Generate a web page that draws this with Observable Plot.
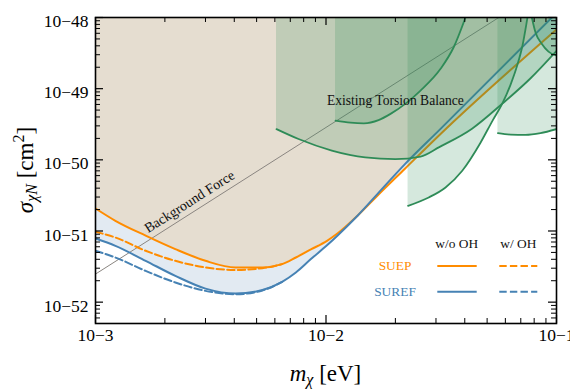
<!DOCTYPE html>
<html><head><meta charset="utf-8">
<script src="https://cdn.jsdelivr.net/npm/d3@7"></script>
<script src="https://cdn.jsdelivr.net/npm/@observablehq/plot@0.6"></script>
<style>
body{margin:0;background:#fff;}
#chart svg, #chart svg text{font-family:"Liberation Serif","Times New Roman",serif;}
</style></head><body><div id="chart"></div>
<script>
// ---- data ----
const mass = [1e-3, 1.22e-3, 1.65e-3, 2.22e-3, 3.0e-3, 4.05e-3, 5.3e-3, 6.45e-3, 7.4e-3, 8.6e-3, 1.01e-2, 1.12e-2, 1.37e-2, 1.67e-2, 2.2e-2, 3.14e-2, 1e-1];
const suepNoOH = [2.07e-51, 1.39e-51, 8.6e-52, 5.56e-52, 3.81e-52, 3.07e-52, 3.07e-52, 3.42e-52, 4.24e-52, 5.5e-52, 7.28e-52, 9.2e-52, 1.64e-51, 3.13e-51, 7.5e-51, 2.31e-50, 6.8e-49];
const surefNoOH = [7.85e-52, 6.19e-52, 3.81e-52, 2.34e-52, 1.55e-52, 1.32e-52, 1.48e-52, 1.93e-52, 2.61e-52, 4.03e-52, 6.3e-52, 8.6e-52, 1.64e-51, 3.3e-51, 8.7e-51, 2.72e-50, 1.16e-48];
const massOH = [1e-3, 1.22e-3, 1.65e-3, 2.22e-3, 3.0e-3, 4.05e-3, 5.3e-3, 6.45e-3];
const suepOH = [9.75e-52, 8.1e-52, 5.27e-52, 3.81e-52, 3.07e-52, 2.84e-52, 3.0e-52, 3.42e-52];
const surefOH = [5.27e-52, 4.24e-52, 2.75e-52, 1.89e-52, 1.44e-52, 1.29e-52, 1.46e-52, 1.93e-52];

const bgMass = [1e-3, 5.62e-2];
const bgSigma = [2.48e-52, 1e-48];

// existing torsion balance constraints
const tb1Mass = [6.1e-3, 7.6e-3, 1.06e-2, 1.48e-2, 2.0e-2, 2.57e-2, 3.1e-2, 4.3e-2, 5.8e-2, 7.7e-2, 1e-1];
const tb1Sigma = [2.7e-50, 1.96e-50, 1.35e-50, 1.08e-50, 1.02e-50, 1.11e-50, 1.51e-50, 2.74e-50, 6.1e-50, 1.39e-49, 3.4e-49];
const tb2Mass = [1.1e-2, 1.277e-2, 1.459e-2, 1.69e-2, 1.905e-2, 2.213e-2, 2.57e-2, 3.14e-2, 3.58e-2, 4.05e-2];
const tb2Sigma = [3.56e-50, 3.33e-50, 3.26e-50, 3.61e-50, 4.42e-50, 6.17e-50, 9.4e-50, 1.9e-49, 3.82e-49, 1.05e-48];
const tb3Mass = [2.27e-2, 2.79e-2, 3.3e-2, 3.9e-2, 4.68e-2, 5.28e-2, 5.81e-2, 6.32e-2, 6.75e-2, 7.12e-2, 7.5e-2];
const tb3Sigma = [2.26e-51, 2.96e-51, 4.09e-51, 7.03e-51, 1.74e-50, 3.56e-50, 6.1e-50, 1.14e-49, 2.11e-49, 4.04e-49, 1.05e-48];
const tb4Mass = [5.57e-2, 6.32e-2, 7.34e-2, 8.52e-2, 1e-1];
const tb4Sigma = [2.37e-50, 2.26e-50, 2.24e-50, 2.37e-50, 2.7e-50];
const tb5Mass = [7.79e-2, 8.11e-2, 8.61e-2, 9.23e-2, 1e-1];
const tb5Sigma = [1.05e-48, 6.15e-49, 4.31e-49, 3.32e-49, 2.92e-49];

const xMajor = [1e-3, 1e-2, 1e-1];
const xTickExp = ["\u22123", "\u22122", "\u22121"];
const yMajor = [1e-52, 1e-51, 1e-50, 1e-49, 1e-48];
const yTickExp = ["\u221252", "\u221251", "\u221250", "\u221249", "\u221248"];

// ---- layout ----
const W = 570, H = 389, mL = 95, mR = 14, mT = 17, mB = 66;
const fw = W - mL - mR, fh = H - mT - mB;
const yTop = 1e-48, yBottom = Math.pow(10, -52.3);
const orange = "#ff8c00", blue = "#4682b4", green = "#2e8b57";
const serif = "Liberation Serif, Times New Roman, serif";

const solid = mass.map((m, i) => ({m, suep: suepNoOH[i], suref: surefNoOH[i],
  lo: Math.min(suepNoOH[i], surefNoOH[i]), hi: Math.max(suepNoOH[i], surefNoOH[i])}));
const dashed = massOH.map((m, i) => ({m, suep: suepOH[i], suref: surefOH[i]}));
const bg = bgMass.map((m, i) => ({m, s: bgSigma[i]}));
const regions = [[tb1Mass, tb1Sigma], [tb2Mass, tb2Sigma], [tb3Mass, tb3Sigma], [tb4Mass, tb4Sigma], [tb5Mass, tb5Sigma]]
  .map(([ms, ss]) => ms.map((m, i) => ({m, s: ss[i]})));

const minorOf = (lo, hi) => {
  const out = [];
  for (let e = Math.floor(Math.log10(lo)); e < Math.ceil(Math.log10(hi)); e++)
    for (let k = 2; k <= 9; k++) { const v = k * Math.pow(10, e); if (v > lo && v < hi) out.push(v); }
  return out;
};
const xMinor = minorOf(1e-3, 1e-1);
const yMinor = minorOf(yBottom, yTop);

const curve = "monotone-x";
const marks = [
  Plot.areaY(solid, {x: "m", y1: "hi", y2: () => yTop, fill: "#e5ddd0", curve, clip: true}),
  Plot.areaY(solid, {x: "m", y1: "lo", y2: "hi", fill: "#e2eaf2", curve, clip: true}),
  Plot.line(bg, {x: "m", y: "s", stroke: "#8a8580", strokeWidth: 1, clip: true}),
  Plot.line(solid, {x: "m", y: "suep", stroke: orange, strokeWidth: 2, curve, clip: true}),
  Plot.line(solid, {x: "m", y: "suref", stroke: blue, strokeWidth: 2, curve, clip: true}),
  Plot.line(dashed, {x: "m", y: "suep", stroke: orange, strokeWidth: 2, strokeDasharray: "7.4,3.2", curve, clip: true}),
  Plot.line(dashed, {x: "m", y: "suref", stroke: blue, strokeWidth: 2, strokeDasharray: "7.4,3.2", curve, clip: true}),
  ...regions.map(r => Plot.areaY(r, {x: "m", y1: "s", y2: () => yTop, fill: green, fillOpacity: 0.2, curve, clip: true})),
  ...regions.map(r => Plot.line(r, {x: "m", y: "s", stroke: green, strokeWidth: 1.8, curve, clip: true})),
  Plot.text(["Existing Torsion Balance"], {x: () => 2.0e-2, y: () => 6.8e-50, text: d => d, fontSize: 13.6, fontFamily: serif, fill: "#111"}),
  Plot.text(["Background Force"], {x: () => 2.56e-3, y: () => 2.58e-51, text: d => d, rotate: -32.5, fontSize: 14, fontFamily: serif, fill: "#111"}),
  // inward ticks on all four sides
  Plot.tickX(xMajor, {x: d => d, insetTop: fh - 8, stroke: "black", strokeWidth: 1.2}),
  Plot.tickX(xMajor, {x: d => d, insetBottom: fh - 8, stroke: "black", strokeWidth: 1.2}),
  Plot.tickX(xMinor, {x: d => d, insetTop: fh - 5, stroke: "black", strokeWidth: 1}),
  Plot.tickX(xMinor, {x: d => d, insetBottom: fh - 5, stroke: "black", strokeWidth: 1}),
  Plot.tickY(yMajor, {y: d => d, insetRight: fw - 8, stroke: "black", strokeWidth: 1.2}),
  Plot.tickY(yMajor, {y: d => d, insetLeft: fw - 8, stroke: "black", strokeWidth: 1.2}),
  Plot.tickY(yMinor, {y: d => d, insetRight: fw - 5, stroke: "black", strokeWidth: 1}),
  Plot.tickY(yMinor, {y: d => d, insetLeft: fw - 5, stroke: "black", strokeWidth: 1}),
  Plot.frame({stroke: "black", strokeWidth: 1.6}),
  // tick labels
  Plot.text(xMajor, {x: d => d, text: (d, i) => "10" + xTickExp[i], frameAnchor: "bottom", dy: 17, fontSize: 17.5, fontFamily: serif, fill: "black", ariaLabel: "xticklabel"}),
  Plot.text(yMajor, {y: d => d, text: (d, i) => "10" + yTickExp[i], frameAnchor: "left", dx: -7, dy: 4, textAnchor: "end", fontSize: 17.5, fontFamily: serif, fill: "black", ariaLabel: "yticklabel"})
];

const chart = Plot.plot({
  width: W, height: H,
  marginLeft: mL, marginRight: mR, marginTop: mT, marginBottom: mB,
  style: {fontFamily: serif, background: "white", color: "black", overflow: "visible"},
  x: {type: "log", domain: [1e-3, 1e-1], axis: null},
  y: {type: "log", domain: [yBottom, yTop], axis: null},
  marks
});

// superscript exponents in tick labels
d3.select(chart).selectAll('g[aria-label="xticklabel"] text, g[aria-label="yticklabel"] text').each(function () {
  const t = this.textContent;
  const exp = t.slice(2);
  this.textContent = "";
  const s = d3.select(this);
  s.append("tspan").text("10");
  s.append("tspan").attr("dy", -7.5).attr("font-size", 12.5).text(exp);
});

const svg = d3.select(chart);
// axis titles
const xt = svg.append("text").attr("x", mL + fw / 2).attr("y", 381).attr("text-anchor", "middle")
  .attr("font-size", 23).attr("fill", "black");
xt.append("tspan").attr("font-style", "italic").text("m");
xt.append("tspan").attr("font-style", "italic").attr("font-size", 16).attr("dy", 4).text("\u03c7");
xt.append("tspan").attr("dy", -4).text(" [eV]");

const yt = svg.append("text").attr("transform", `translate(33,${mT + fh / 2}) rotate(-90)`).attr("text-anchor", "middle")
  .attr("font-size", 23).attr("fill", "black");
yt.append("tspan").attr("font-style", "italic").text("\u03c3");
yt.append("tspan").attr("font-style", "italic").attr("font-size", 16).attr("dy", 4).text("\u03c7N");
yt.append("tspan").attr("dy", -4).text(" [cm");
yt.append("tspan").attr("font-size", 16).attr("dy", -9).text("2");
yt.append("tspan").attr("dy", 9).text("]");

// legend
const lg = svg.append("g").attr("font-size", 13.4);
lg.append("text").attr("x", 456.7).attr("y", 247.6).attr("text-anchor", "middle").attr("fill", "#111").text("w/o OH");
lg.append("text").attr("x", 518.3).attr("y", 247.6).attr("text-anchor", "middle").attr("fill", "#111").text("w/ OH");
lg.append("text").attr("x", 395).attr("y", 269.5).attr("text-anchor", "middle").attr("fill", orange).text("SUEP");
lg.append("text").attr("x", 395).attr("y", 295.5).attr("text-anchor", "middle").attr("fill", blue).text("SUREF");
[[266, orange], [291.7, blue]].forEach(([y, c]) => {
  lg.append("line").attr("x1", 437.3).attr("x2", 476.7).attr("y1", y).attr("y2", y).attr("stroke", c).attr("stroke-width", 2);
  lg.append("line").attr("x1", 499.3).attr("x2", 537.3).attr("y1", y).attr("y2", y).attr("stroke", c).attr("stroke-width", 2).attr("stroke-dasharray", "7.4,3.2");
});

// make sure every text uses the serif face
svg.selectAll("text").attr("font-family", serif);

document.getElementById("chart").appendChild(chart);
</script></body></html>
